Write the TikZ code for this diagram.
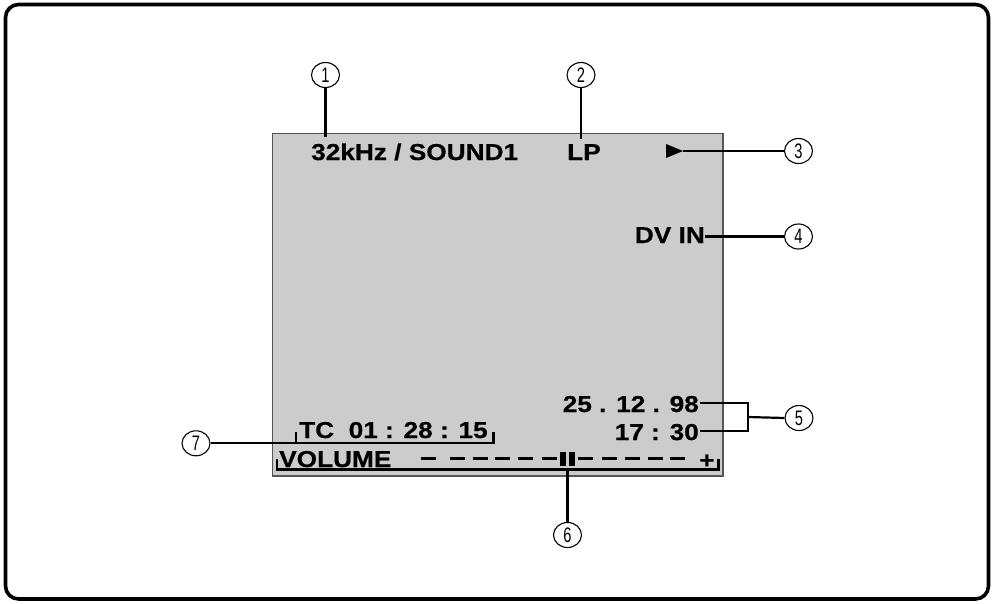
\documentclass[tikz,border=0pt]{standalone}
\usepackage{fontspec}
\usetikzlibrary{shapes.geometric}
\newfontfamily\osdfont[FakeStretch=1.14,FakeBold=0.6]{Liberation Sans}
\newfontfamily\numfont[FakeStretch=0.7]{Liberation Sans}
\definecolor{screengray}{HTML}{CCCCCC}
\definecolor{screenedge}{HTML}{555555}
\tikzset{
  osd/.style={inner sep=0pt, font=\osdfont\bfseries\fontsize{23}{23}\selectfont},
  callout/.style={ellipse, draw, line width=1.1pt, minimum width=28pt, minimum height=25pt, inner sep=0pt,
    font=\numfont\fontsize{21}{21}\selectfont},
  lead/.style={line width=2.2pt, line cap=butt},
  bardash/.style={line width=3.3pt}
}
\begin{document}
\begin{tikzpicture}[x=1pt,y=-1pt]
\useasboundingbox (0,0) rectangle (995,603);
% outer frame
\draw[line width=3.6pt, rounded corners=13pt] (5.5,4.5) rectangle (988.5,599);
% screen
\draw[fill=screengray, draw=screenedge, line width=1.2pt] (272.5,133.5) rectangle (723,476);

% texts
\node[osd, anchor=base west] (freq) at (311,160) {32kHz / SOUND1};
\node[osd, anchor=base west] (lp) at (567,160) {LP};
\node[osd, anchor=base east] (dvin) at (705,243) {DV IN};
\node[osd, anchor=base east] (date) at (699,412) {25 . 12 . 98};
\node[osd, anchor=base east] (time) at (699,440) {17 : 30};
\node[osd, anchor=base west] (tc) at (299,438) {TC\ \ 01 : 28 : 15};
\node[osd, anchor=base west] (vol) at (279,467) {VOLUME};
\node[osd, anchor=base west] (plus) at (699,468) {+};

% play triangle
\fill (666,144) -- (683,151) -- (666,158) -- cycle;
\coordinate (tri) at (683,151);

% volume dashes
\foreach \a in {420.7,450,472.7,495,518,541.7,578,602,625,648,670}
  \draw[bardash] (\a,458.3) -- ++(15,0);
\fill (560,451.7) rectangle (565.7,465.7);
\fill (569,451.7) rectangle (575,465.7);

% callout circles
\node[callout] (c1) at (325.5,75) {1};
\node[callout] (c2) at (581,75) {2};
\node[callout] (c3) at (798.5,151) {3};
\node[callout] (c4) at (798.5,236.5) {4};
\node[callout] (c5) at (799,418) {5};
\node[callout] (c6) at (567.5,535) {6};
\node[callout] (c7) at (196,443.3) {7};

% leaders
\coordinate (p1) at (325.5,137);
\coordinate (p2) at (581,139);
\draw[lead] (c1.south) -- (p1);
\draw[lead] (c2.south) -- (p2);
\draw[lead] (tri) -- (c3.west);
\draw[lead] (dvin.east |- c4.west) -- (c4.west);

\coordinate (d1) at (700,403);
\coordinate (d2) at (700,431);
\coordinate (br) at (748,417);
\draw[lead] (d1) -| (br |- d2) -- (d2);
\draw[lead] (br) -- (c5.west);

% time code bracket
\coordinate (tcl) at (296,432);
\coordinate (tcr) at (493.5,432);
\draw[lead] (c7.east) -- (tcr |- c7.east) -- (tcr);
\draw[lead] (tcl) -- (tcl |- c7.east);

% volume bracket
\coordinate (vl) at (277,459);
\coordinate (vr) at (718.5,459);
\draw[lead] (vl) -- (277,469.5) -- (718.5,469.5) -- (vr);
\coordinate (v6) at (567.5,469.5);
\draw[lead] (v6) -- (c6.north);
\end{tikzpicture}
\end{document}
